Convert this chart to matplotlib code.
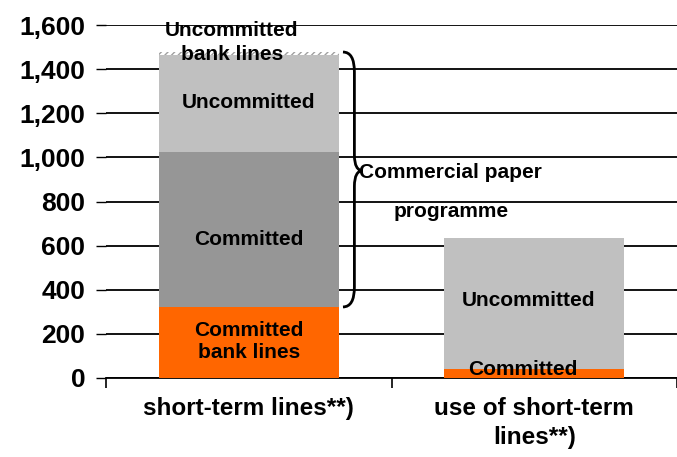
import matplotlib
matplotlib.use("Agg")
import matplotlib.pyplot as plt
from matplotlib.path import Path
from matplotlib.patches import PathPatch
from matplotlib.ticker import FuncFormatter

plt.rcParams['font.family'] = ['Liberation Sans', 'DejaVu Sans']
plt.rcParams['font.weight'] = 'bold'
plt.rcParams['hatch.color'] = '#969696'

categories = ["short-term lines**)", "use of short-term\nlines**)"]
committed_bank = [322, 41]
committed_cp = [702, 0]
uncommitted_cp = [440, 594]
uncommitted_bank = [14, 0]

fig = plt.figure(figsize=(6.77, 4.57), dpi=100)
ax = fig.add_axes([0.1566, 0.173, 0.8434, 0.772])

x = [0, 1]
w = 0.63
b1 = committed_bank
b2 = [a + b for a, b in zip(b1, committed_cp)]
b3 = [a + b for a, b in zip(b2, uncommitted_cp)]
ax.bar(x, committed_bank, w, color='#FF6600', zorder=3)
ax.bar(x, committed_cp, w, bottom=b1, color='#969696', zorder=3)
ax.bar(x, uncommitted_cp, w, bottom=b2, color='#C0C0C0', zorder=3)
ax.bar(x, uncommitted_bank, w, bottom=b3, color='white', hatch='/////',
       edgecolor='#A0A0A0', linewidth=0, zorder=3)

ax.set_ylim(0, 1600)
ax.set_xlim(-0.5, 1.45)
ax.set_yticks(range(0, 1601, 200))
ax.yaxis.set_major_formatter(FuncFormatter(lambda v, p: f"{int(v):,}"))
ax.yaxis.grid(True, color='black', linewidth=1.3, zorder=0)
for s in ['top', 'right', 'left']:
    ax.spines[s].set_visible(False)
ax.spines['bottom'].set_linewidth(1.3)
ax.tick_params(axis='y', length=7, width=1, labelsize=19, pad=8)
ax.set_xticks([-0.5, 0.5, 1.5])
ax.set_xticklabels([])
ax.set_xticks(x, minor=True)
ax.set_xticklabels(categories, minor=True, fontsize=17.5, linespacing=1.3)
ax.tick_params(axis='x', which='major', direction='out', length=7, width=1.2)
ax.tick_params(axis='x', which='minor', length=0, pad=14)

fs = 15
ax.text(-0.06, 1522, "Uncommitted\nbank lines", ha='center', va='center',
        fontsize=fs, linespacing=1.35, zorder=5)
ax.text(0, 1250, "Uncommitted", ha='center', va='center', fontsize=fs, zorder=5)
ax.text(0, 630, "Committed", ha='center', va='center', fontsize=fs, zorder=5)
ax.text(0, 165, "Committed\nbank lines", ha='center', va='center',
        fontsize=fs, linespacing=1.25, zorder=5)
ax.text(0.98, 350, "Uncommitted", ha='center', va='center', fontsize=fs, zorder=5)
ax.text(0.96, 38, "Committed", ha='center', va='center', fontsize=fs, zorder=5)

# curly brace for the commercial paper programme
top, bot, mid = 1478, 322, 940
x0, x1 = 0.33, 0.40
xm = 0.37
codes = [Path.MOVETO, Path.CURVE3, Path.CURVE3, Path.LINETO,
         Path.CURVE3, Path.CURVE3,
         Path.MOVETO, Path.CURVE3, Path.CURVE3,
         Path.LINETO, Path.CURVE3, Path.CURVE3]
verts = [(x0, top), (xm, top), (xm, top - 90), (xm, mid + 70),
         (xm, mid), (x1, mid),
         (x1, mid), (xm, mid), (xm, mid - 70),
         (xm, bot + 90), (xm, bot), (x0, bot)]
ax.add_patch(PathPatch(Path(verts, codes), fill=False, lw=2,
                       color='black', zorder=5, clip_on=False))
ax.text(0.385, 930, "Commercial paper", ha='left', va='center', fontsize=fs, zorder=5)
ax.text(0.71, 755, "programme", ha='center', va='center', fontsize=fs, zorder=5)

fig.savefig("out.png", dpi=100)
